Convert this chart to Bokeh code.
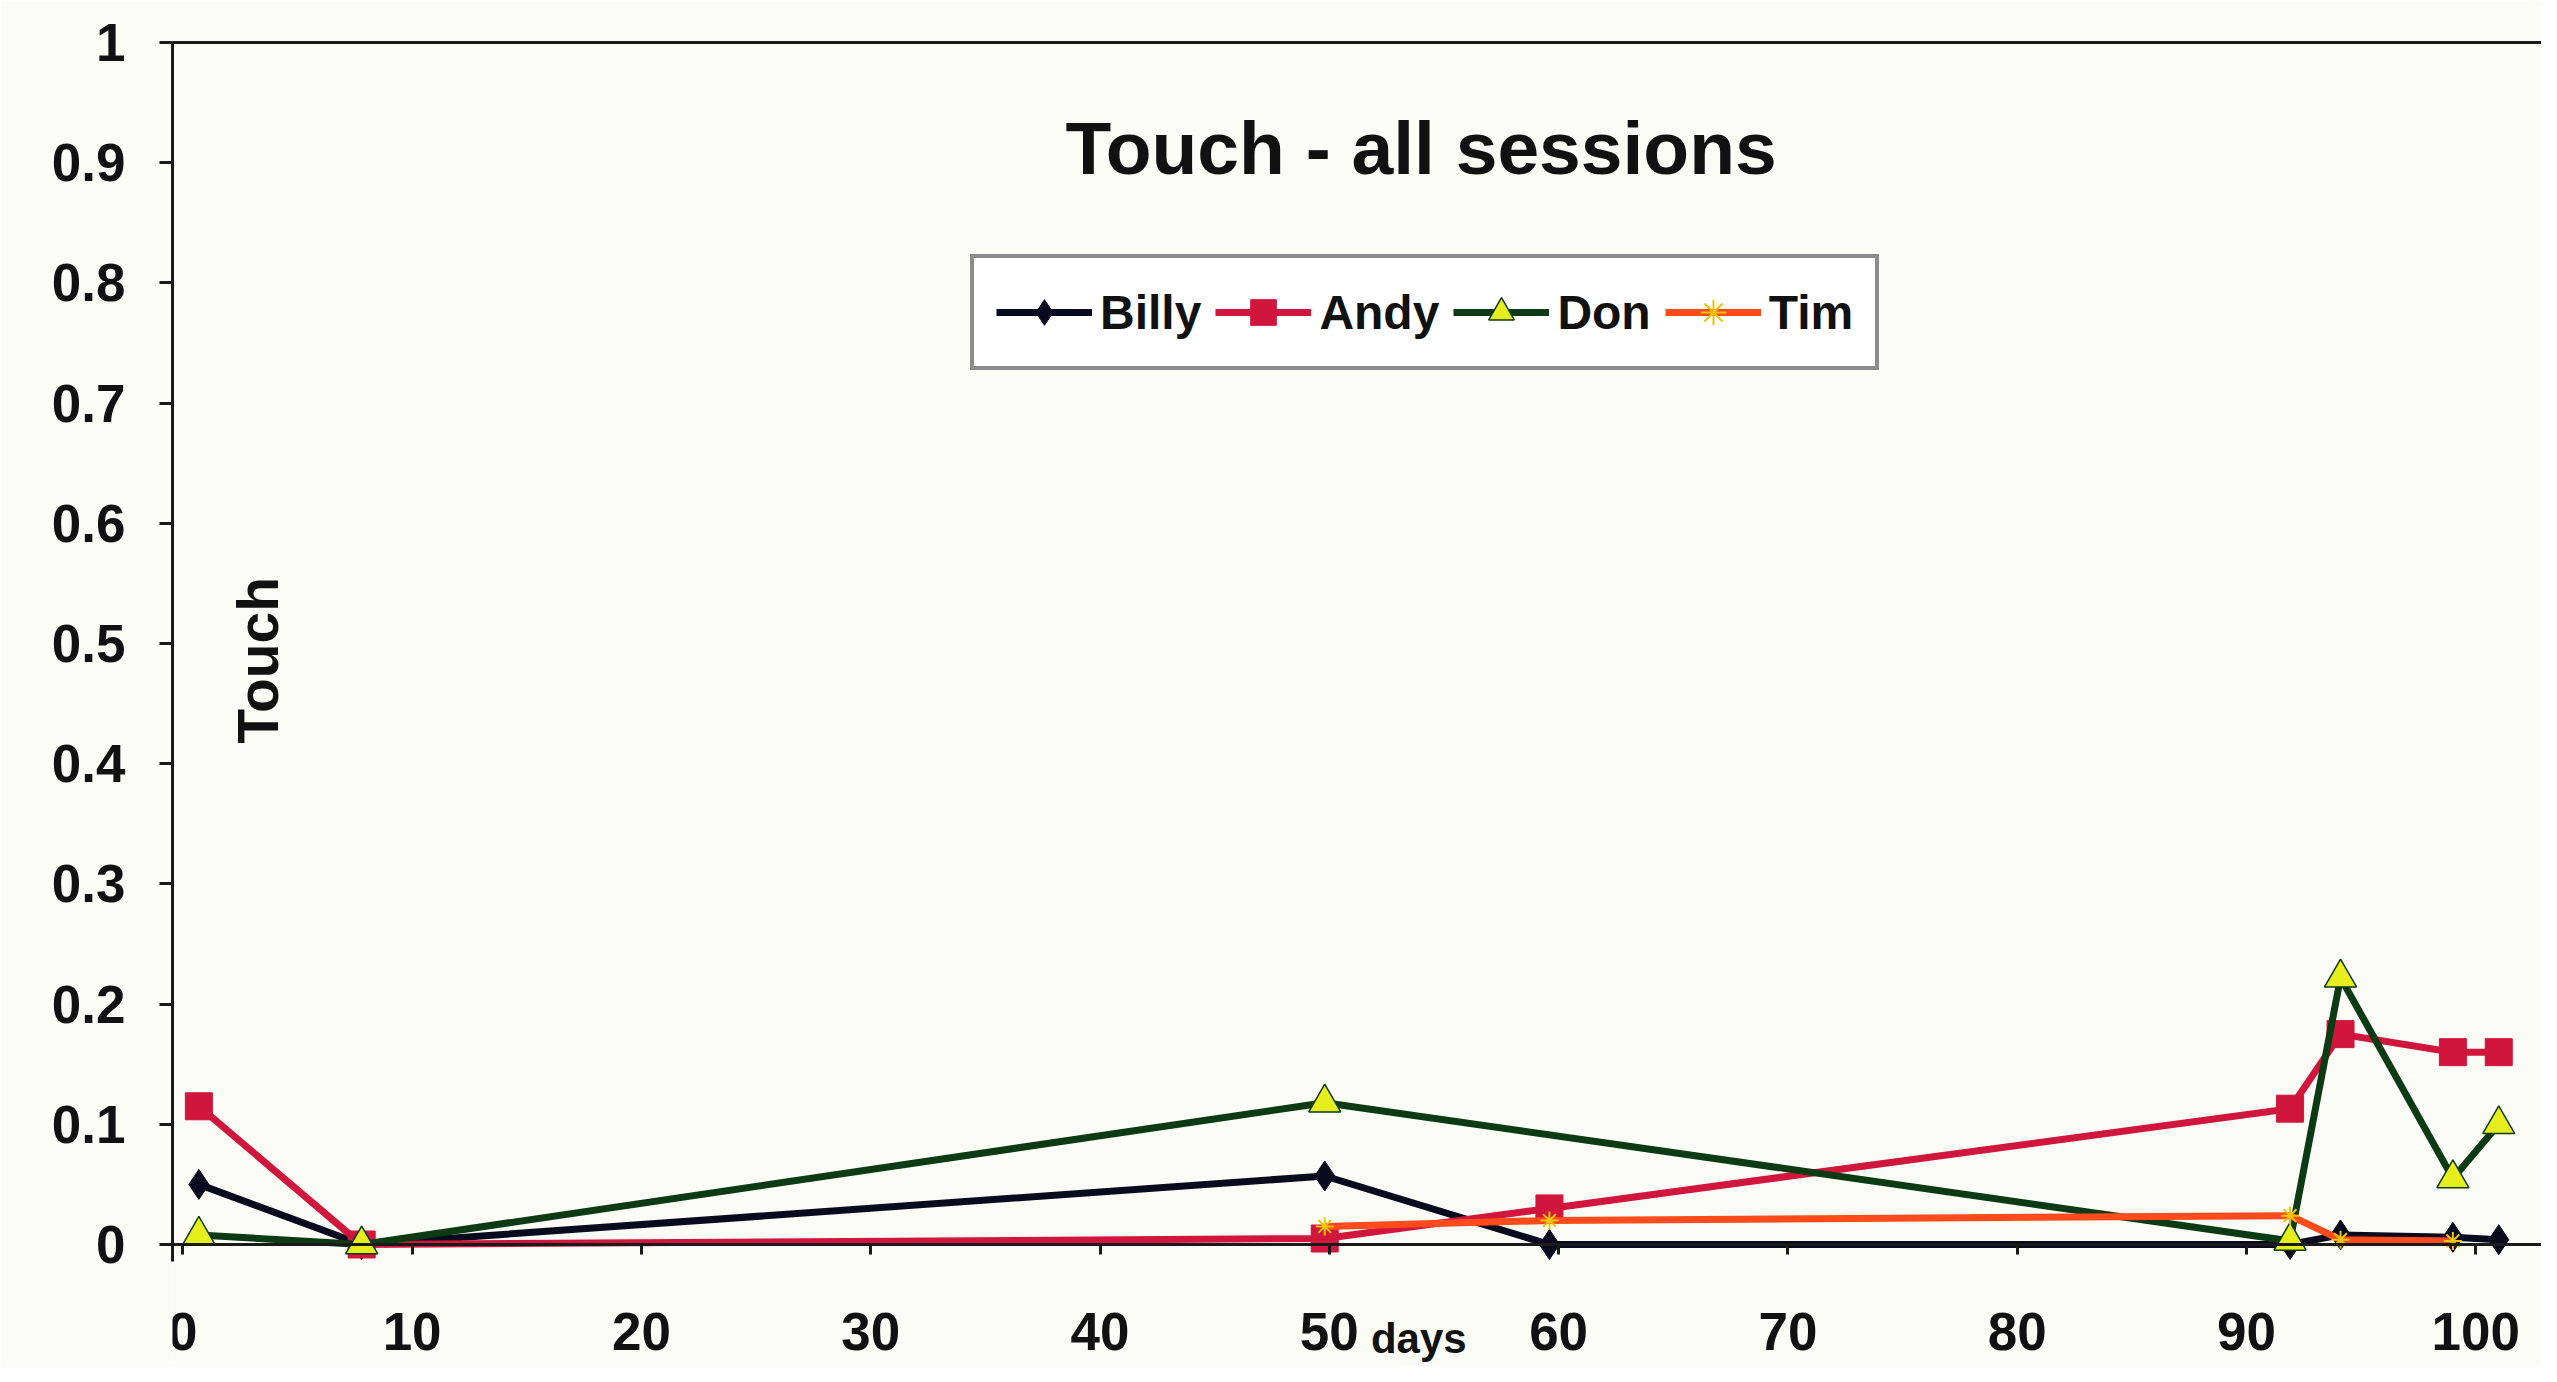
from bokeh.plotting import figure
from bokeh.models import (Range1d, FixedTicker, CustomJSTickFormatter, LinearAxis,
                          Label, Legend, LegendItem)
from bokeh.embed import file_html
from bokeh.resources import INLINE

# ---- data ----
billy_days = [0.7, 7.8, 49.8, 59.6, 91.9, 94.1, 99.0, 101.0]
billy_vals = [0.05, 0.0, 0.057, 0.0, 0.0, 0.008, 0.006, 0.004]

andy_days = [0.7, 7.8, 49.8, 59.6, 91.9, 94.1, 99.0, 101.0]
andy_vals = [0.115, 0.0, 0.005, 0.03, 0.113, 0.175, 0.16, 0.16]

don_days = [0.7, 7.8, 49.8, 91.9, 94.1, 99.0, 101.0]
don_vals = [0.008, 0.0, 0.118, 0.003, 0.222, 0.055, 0.10]

tim_days = [49.8, 59.6, 91.9, 94.1, 99.0]
tim_vals = [0.015, 0.02, 0.024, 0.004, 0.003]

x_ticks = [0, 10, 20, 30, 40, 50, 60, 70, 80, 90, 100]
y_ticks = [0, 0.1, 0.2, 0.3, 0.4, 0.5, 0.6, 0.7, 0.8, 0.9, 1]

title_text = "Touch - all sessions"
y_label = "Touch"
x_label = "days"

FONT = "Liberation Sans"
BG = "#fcfcf7"
AX = "#1a1a1a"

W, H = 2541, 1366
LEFT, TOP = 172, 42
PX_PER_X = 22.93
PX_PER_Y = 1202.0
frame_h = H - TOP
y_low = 1.0 - frame_h / PX_PER_Y

p = figure(width=W, height=H, output_backend="svg", toolbar_location=None,
           x_range=Range1d(-0.45, -0.45 + (W - LEFT) / PX_PER_X),
           y_range=Range1d(y_low, 1),
           min_border_left=LEFT, min_border_right=0,
           min_border_top=TOP, min_border_bottom=0)
p.background_fill_color = BG
p.border_fill_color = BG
p.outline_line_color = None
p.xgrid.visible = False
p.ygrid.visible = False

# axes
xa = p.xaxis[0]
xa.fixed_location = 0
xa.ticker = FixedTicker(ticks=x_ticks)
xa.major_tick_out = 10
xa.major_tick_in = 0
xa.minor_tick_line_color = None
xa.axis_line_color = AX
xa.axis_line_width = 3
xa.major_tick_line_color = AX
xa.major_tick_line_width = 3
xa.major_label_text_font = FONT
xa.major_label_text_font_style = "bold"
xa.major_label_text_font_size = "53px"
xa.major_label_text_color = "#111111"
xa.major_label_standoff = 58

ya = p.yaxis[0]
ya.ticker = FixedTicker(ticks=y_ticks)
ya.bounds = (-0.014, 1)
ya.formatter = CustomJSTickFormatter(code="return String(Math.round(tick*10)/10);")
ya.major_tick_out = 13
ya.major_tick_in = 0
ya.minor_tick_line_color = None
ya.axis_line_color = AX
ya.axis_line_width = 3
ya.major_tick_line_color = AX
ya.major_tick_line_width = 3
ya.major_label_text_font = FONT
ya.major_label_text_font_style = "bold"
ya.major_label_text_font_size = "53px"
ya.major_label_text_color = "#111111"
ya.major_label_standoff = 34

top_axis = LinearAxis(ticker=FixedTicker(ticks=[]),
                      major_tick_line_color=None, minor_tick_line_color=None,
                      major_label_standoff=0, major_tick_out=0,
                      axis_line_color=AX, axis_line_width=3)
p.add_layout(top_axis, "above")

# series
r_billy_l = p.line(billy_days, billy_vals, line_color="#0a0a1e", line_width=7)
r_billy_m = p.scatter(billy_days, billy_vals, marker="diamond", size=30,
                      fill_color="#0a0a1e", line_color="#0a0a1e")

r_andy_l = p.line(andy_days, andy_vals, line_color="#d0163c", line_width=7)
r_andy_m = p.scatter(andy_days, andy_vals, marker="square", size=27,
                     fill_color="#d0163c", line_color="#d0163c")

r_don_l = p.line(don_days, don_vals, line_color="#0c3a14", line_width=7)
r_don_m = p.scatter(don_days, don_vals, marker="triangle", size=32,
                    fill_color="#e6ee1e", line_color="#0c3a14", line_width=1.5)

r_tim_l = p.line(tim_days, tim_vals, line_color="#ff4a1c", line_width=7)
r_tim_m = p.scatter(tim_days, tim_vals, marker="asterisk", size=18,
                    line_color="#f2c400", line_width=2)

frame_bottom_offset = frame_h - PX_PER_Y  # px from frame bottom to y=0
legend = Legend(items=[
    LegendItem(label="Billy", renderers=[r_billy_l, r_billy_m]),
    LegendItem(label="Andy", renderers=[r_andy_l, r_andy_m]),
    LegendItem(label="Don", renderers=[r_don_l, r_don_m]),
    LegendItem(label="Tim", renderers=[r_tim_l, r_tim_m]),
], orientation="horizontal", location=(798, int(874 + frame_bottom_offset)))
legend.label_text_font = FONT
legend.label_text_font_style = "bold"
legend.label_text_font_size = "48px"
legend.label_text_color = "#111111"
legend.glyph_width = 96
legend.glyph_height = 64
legend.label_height = 64
legend.label_standoff = 8
legend.spacing = 14
legend.padding = 22
legend.margin = 0
legend.border_line_color = AX
legend.border_line_width = 4
legend.background_fill_color = "#ffffff"
legend.background_fill_alpha = 1.0
p.add_layout(legend, "center")

# texts
p.add_layout(Label(x=54.0, y=0.912, text=title_text, text_font=FONT,
                   text_font_style="bold", text_font_size="75px",
                   text_align="center", text_baseline="middle", text_color="#111111"))
p.add_layout(Label(x=3.3, y=0.486, text=y_label, angle=1.5708, text_font=FONT,
                   text_font_style="bold", text_font_size="57px",
                   text_align="center", text_baseline="middle", text_color="#111111"))
p.add_layout(Label(x=53.9, y=-0.078, text=x_label, text_font=FONT,
                   text_font_style="bold", text_font_size="42px",
                   text_align="center", text_baseline="middle", text_color="#111111"))

open("out.html", "w").write(file_html(p, INLINE))
